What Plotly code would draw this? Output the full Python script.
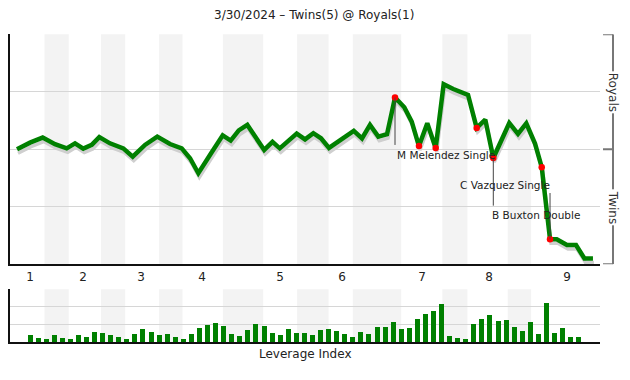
import plotly.graph_objects as go

# ---------------- data ----------------
title_text = "3/30/2024 \u2013 Twins(5) @ Royals(1)"

# win-probability line (x in plate-appearance units, y = Royals win %)
line_x = [-1.61, 0, 1.57, 3.10, 4.55, 5.58, 6.60, 7.65, 8.59, 9.91,
          11.56, 12.73, 14.25, 15.77, 17.35, 18.80, 19.83, 20.86, 22.30, 23.88,
          24.87, 25.87, 26.93, 29.02, 30.05, 30.95, 33.05, 34.08, 35.11, 36.06,
          37.05, 38.20, 40.12, 41.14, 42.13, 43.16, 44.24, 45.23, 46.38, 47.30,
          48.20, 49.23, 50.27, 51.26, 52.45, 54.28, 55.35, 56.42, 57.41, 59.39,
          60.47, 61.50, 62.58, 63.41, 64.44, 65.27, 66.54, 67.66, 68.71, 69.76]
line_wp = [50.0, 52.9, 55.1, 52.2, 50.4, 52.6, 50.3, 51.9, 55.3, 52.6,
           50.4, 46.8, 51.9, 55.5, 52.3, 50.4, 46.1, 39.6, 47.5, 56.1,
           53.8, 58.2, 60.6, 49.7, 53.2, 50.4, 56.8, 54.3, 57.0, 54.8,
           50.6, 53.3, 58.0, 54.7, 60.6, 55.5, 56.6, 72.5, 68.3, 62.0,
           51.4, 61.3, 50.6, 78.3, 76.2, 73.6, 59.3, 62.9, 46.2, 61.4,
           56.7, 61.3, 52.5, 42.2, 10.9, 10.9, 8.4, 8.4, 2.5, 2.5]

# key plays (red dots) as indices into the line
key_idx = [37, 40, 42, 46, 48, 53, 54]

# labelled plays: (line index, label)
labelled_idx = [37, 48, 54]
labelled_text = ["M Melendez Single", "C Vazquez Single", "B Buxton Double"]

# leverage index per plate appearance
leverage = [0.40, 0.23, 0.17, 0.40, 0.23, 0.17, 0.40, 0.28, 0.57, 0.51,
            0.40, 0.28, 0.17, 0.46, 0.74, 0.57, 0.40, 0.46, 0.28, 0.17,
            0.46, 0.80, 0.97, 1.08, 0.91, 0.46, 0.34, 0.68, 1.02, 0.91,
            0.51, 0.40, 0.74, 0.51, 0.51, 0.40,
            0.68, 0.74, 0.63, 0.46, 0.28, 0.57, 0.46, 0.85, 0.85, 1.14,
            0.74, 0.80, 1.31, 1.59, 1.76, 2.16, 0.34, 0.23, 0.17, 1.02,
            1.31, 1.54, 1.20, 1.25, 0.85, 0.63, 1.14, 0.46, 2.22, 0.51,
            0.80, 0.28, 0.28]
pa_index = list(range(len(leverage)))

# half-innings shaded (bottom halves), in PA units
band_start = [1.8, 8.8, 16.0, 23.9, 33.1, 40.0, 51.1, 59.2]
band_end = [4.8, 11.8, 18.9, 28.9, 37.0, 46.0, 54.2, 62.1]

inning_pos = [0, 6.57, 13.75, 21.31, 30.98, 38.66, 48.57, 56.88, 66.54]
inning_lab = ["1", "2", "3", "4", "5", "6", "7", "8", "9"]

team_labels = ["Royals", "Twins"]
team_label_wp = [75, 25]

# ---------------- layout helpers ----------------
W, H = 630, 380
PX0, PX1 = 10, 600            # plot left/right in px
X_RANGE = [-2.478, 70.632]
TOP_Y0, TOP_Y1 = 264.3, 34.3  # px
BOT_Y0, BOT_Y1 = 342.0, 289.3
GREEN = "#008000"
FONT = "DejaVu Sans"

def py(p):
    return 1 - p / H

xdom = [PX0 / W, PX1 / W]
top_dom = [py(TOP_Y0), py(TOP_Y1)]
bot_dom = [py(BOT_Y0), py(BOT_Y1)]

px_per_x = (PX1 - PX0) / (X_RANGE[1] - X_RANGE[0])
px_per_wp = (TOP_Y0 - TOP_Y1) / 100.0
sh_dx, sh_dy = 1.0, 4.0  # shadow offset in px
x_sh = [X_RANGE[0] - sh_dx / px_per_x, X_RANGE[1] - sh_dx / px_per_x]
y_sh = [0 + sh_dy / px_per_wp, 100 + sh_dy / px_per_wp]

fig = go.Figure()

# shadow
fig.add_trace(go.Scatter(x=line_x, y=line_wp, mode="lines", xaxis="x3", yaxis="y3",
                         line=dict(color="#cfcfcf", width=3.5), hoverinfo="skip",
                         showlegend=False))
# main line
fig.add_trace(go.Scatter(x=line_x, y=line_wp, mode="lines", xaxis="x4", yaxis="y4",
                         line=dict(color=GREEN, width=4.5), showlegend=False))
# key points
fig.add_trace(go.Scatter(x=[line_x[i] for i in key_idx], y=[line_wp[i] for i in key_idx],
                         mode="markers", xaxis="x4", yaxis="y4",
                         marker=dict(color="#ff0000", size=6.5), showlegend=False))
# leverage bars
fig.add_trace(go.Bar(x=pa_index, y=leverage, xaxis="x2", yaxis="y2",
                     marker=dict(color=GREEN, line=dict(width=0)), width=0.62,
                     showlegend=False))

shapes = []
for s, e in zip(band_start, band_end):
    shapes.append(dict(type="rect", xref="x", yref="y domain", x0=s, x1=e, y0=0, y1=1,
                       fillcolor="#f3f3f3", line=dict(width=0), layer="below"))
    shapes.append(dict(type="rect", xref="x2", yref="y2 domain", x0=s, x1=e, y0=0, y1=1,
                       fillcolor="#f3f3f3", line=dict(width=0), layer="below"))

annotations = []
# event label lines + texts
lab_line_end = [51.9, 25.5, 31.0]
lab_tx = [45.29, 58.9, 62.7]
lab_ty = [47.5, 34.5, 21.4]
lab_anchor = ["left", "center", "center"]
for k, i in enumerate(labelled_idx):
    shapes.append(dict(type="line", xref="x4", yref="y4", x0=line_x[i], x1=line_x[i],
                       y0=line_wp[i], y1=lab_line_end[k], line=dict(color="#444", width=1)))
    annotations.append(dict(xref="x4", yref="y4", x=lab_tx[k], y=lab_ty[k], text=labelled_text[k],
                            showarrow=False, xanchor=lab_anchor[k], yanchor="middle",
                            font=dict(family=FONT, size=10.5, color="#222")))

# right-hand bracket
bx = 613 / W
bx0 = 603 / W
shapes.append(dict(type="line", xref="paper", yref="y", x0=bx, x1=bx, y0=0, y1=100,
                   line=dict(color="#777", width=2)))
for v in [0, 50, 100]:
    shapes.append(dict(type="line", xref="paper", yref="y", x0=bx0, x1=bx, y0=v, y1=v,
                       line=dict(color="#777", width=2)))
for t, v in zip(team_labels, team_label_wp):
    annotations.append(dict(xref="paper", yref="y", x=bx, y=v, text=t, textangle=90,
                            showarrow=False, bgcolor="white", xanchor="center", yanchor="middle",
                            font=dict(family=FONT, size=12, color="#333")))

annotations.append(dict(xref="paper", yref="paper", x=314 / W, y=py(15), text=title_text,
                        showarrow=False, xanchor="center", yanchor="middle",
                        font=dict(family=FONT, size=12, color="#222")))
annotations.append(dict(xref="paper", yref="paper", x=305 / W, y=py(354), text="Leverage Index",
                        showarrow=False, xanchor="center", yanchor="middle",
                        font=dict(family=FONT, size=12, color="#222")))

grid = "#d6d6d6"
fig.update_layout(
    width=W, height=H, autosize=False,
    margin=dict(l=0, r=0, t=0, b=0),
    paper_bgcolor="white", plot_bgcolor="white",
    font=dict(family=FONT, size=12, color="#222"),
    bargap=0,
    xaxis=dict(domain=xdom, range=X_RANGE, anchor="y", showgrid=False, zeroline=False,
               showline=True, linecolor="#111", linewidth=2,
               tickmode="array", tickvals=inning_pos, ticktext=inning_lab, ticks="",
               tickfont=dict(family=FONT, size=12, color="#222"), fixedrange=True),
    yaxis=dict(domain=top_dom, range=[0, 100], anchor="x", tickvals=[0, 25, 50, 75, 100],
               showticklabels=False, ticks="", showgrid=True, gridcolor=grid, gridwidth=1,
               zeroline=False, showline=True, linecolor="#111", linewidth=2),
    xaxis3=dict(domain=xdom, range=x_sh, overlaying="x", anchor="y3", visible=False),
    yaxis3=dict(domain=top_dom, range=y_sh, overlaying="y", anchor="x3", visible=False),
    xaxis4=dict(domain=xdom, range=X_RANGE, overlaying="x", anchor="y4", visible=False),
    yaxis4=dict(domain=top_dom, range=[0, 100], overlaying="y", anchor="x4", visible=False),
    xaxis2=dict(domain=xdom, range=X_RANGE, anchor="y2", showgrid=False, zeroline=False,
                showline=True, linecolor="#111", linewidth=2, showticklabels=False, ticks=""),
    yaxis2=dict(domain=bot_dom, range=[0, 3], anchor="x2", tickvals=[0, 1, 2, 3],
                showticklabels=False, ticks="", showgrid=True, gridcolor=grid,
                zeroline=False, showline=True, linecolor="#111", linewidth=2),
    shapes=shapes,
    annotations=annotations,
)

fig.write_html("out.html")
